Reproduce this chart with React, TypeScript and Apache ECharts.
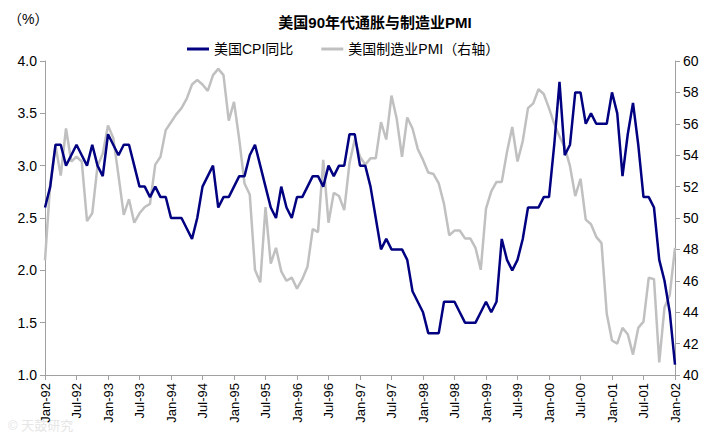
import React, { useEffect, useRef } from "react";
import * as echarts from "echarts";

const monthNames = ["Jan", "Feb", "Mar", "Apr", "May", "Jun", "Jul", "Aug", "Sep", "Oct", "Nov", "Dec"];
const years = [92, 93, 94, 95, 96, 97, 98, 99, 0, 1, 2];

const categories: string[] = [];
years.forEach((y) => {
  monthNames.forEach((m) => {
    if (categories.length < 121) categories.push(m + "-" + String(y).padStart(2, "0"));
  });
});

// 美国CPI同比 (%)
const cpi = [
  2.6, 2.8, 3.2, 3.2, 3.0, 3.1, 3.2, 3.1, 3.0, 3.2, 3.0, 2.9,
  3.3, 3.2, 3.1, 3.2, 3.2, 3.0, 2.8, 2.8, 2.7, 2.8, 2.7, 2.7,
  2.5, 2.5, 2.5, 2.4, 2.3, 2.5, 2.8, 2.9, 3.0, 2.6, 2.7, 2.7,
  2.8, 2.9, 2.9, 3.1, 3.2, 3.0, 2.8, 2.6, 2.5, 2.8, 2.6, 2.5,
  2.7, 2.7, 2.8, 2.9, 2.9, 2.8, 3.0, 2.9, 3.0, 3.0, 3.3, 3.3,
  3.0, 3.0, 2.8, 2.5, 2.2, 2.3, 2.2, 2.2, 2.2, 2.1, 1.8, 1.7,
  1.6, 1.4, 1.4, 1.4, 1.7, 1.7, 1.7, 1.6, 1.5, 1.5, 1.5, 1.6,
  1.7, 1.6, 1.7, 2.3, 2.1, 2.0, 2.1, 2.3, 2.6, 2.6, 2.6, 2.7,
  2.7, 3.2, 3.8, 3.1, 3.2, 3.7, 3.7, 3.4, 3.5, 3.4, 3.4, 3.4,
  3.7, 3.5, 2.9, 3.3, 3.6, 3.2, 2.7, 2.7, 2.6, 2.1, 1.9, 1.6,
  1.1,
];

// 美国制造业PMI
const pmi = [
  47.3, 52.2, 54.6, 52.7, 55.7, 53.6, 53.9, 53.6, 49.8, 50.3, 53.3, 54.1,
  55.9, 55.1, 52.7, 50.2, 51.2, 49.7, 50.3, 50.7, 50.9, 53.4, 53.9, 55.6,
  56.1, 56.6, 57.0, 57.6, 58.5, 58.8, 58.5, 58.1, 59.1, 59.5, 59.1, 56.2,
  57.4, 55.0, 52.2, 51.5, 46.7, 45.9, 50.7, 47.1, 48.1, 46.6, 46.0, 46.2,
  45.5, 46.1, 46.9, 49.3, 49.1, 53.7, 49.7, 51.6, 51.4, 50.5, 53.5, 55.0,
  53.9, 53.4, 53.8, 53.8, 56.1, 55.0, 57.8, 56.3, 53.9, 56.4, 55.7, 54.4,
  53.7, 52.9, 52.8, 52.2, 50.9, 48.9, 49.2, 49.2, 48.7, 48.7, 48.1, 46.7,
  50.6, 51.7, 52.3, 52.3, 54.2, 55.8, 53.6, 54.9, 57.0, 57.3, 58.2, 57.9,
  57.0, 56.0, 55.2, 54.5, 53.3, 51.4, 52.5, 49.9, 49.6, 48.8, 48.4, 43.9,
  42.2, 42.0, 43.0, 42.6, 41.3, 43.0, 43.4, 46.2, 46.1, 40.8, 44.3, 45.1,
  48.1,
];

const font = "Arial, 'Liberation Sans', 'Noto Sans CJK SC', sans-serif";

const App = () => {
  const chartRef = useRef<HTMLDivElement>(null);

  useEffect(() => {
    const chartDom = chartRef.current;
    if (!chartDom) return;
    const myChart = echarts.init(chartDom, null, { renderer: "svg" });
    const axisLine = { show: true, lineStyle: { color: "#a0a0a0" } };
    myChart.setOption({
      animation: false,
      textStyle: { fontFamily: font },
      title: {
        text: "美国90年代通胀与制造业PMI",
        left: 362,
        top: 2,
        textAlign: "center",
        textStyle: { fontSize: 15, fontWeight: "bold", color: "#000", fontFamily: font },
      },
      graphic: [
        { type: "text", left: 0, top: 4, style: { text: "（%）", fill: "#000", font: "14px " + font } },
        { type: "text", left: 0, bottom: 0, style: { text: "© 天鼓研究", fill: "#e6e6e6", font: "13px " + font } },
      ],
      legend: {
        top: 29,
        left: 174,
        itemWidth: 22,
        itemHeight: 3,
        itemGap: 28,
        icon: "rect",
        textStyle: { fontSize: 14, color: "#000" },
        data: ["美国CPI同比", "美国制造业PMI（右轴）"],
      },
      grid: { left: 37, right: 31, top: 53, bottom: 57 },
      xAxis: {
        type: "category",
        data: categories,
        boundaryGap: false,
        axisLine,
        axisTick: { show: true, interval: 5, inside: false, lineStyle: { color: "#a0a0a0" } },
        axisLabel: { interval: 5, rotate: 90, fontSize: 13, color: "#000" },
      },
      yAxis: [
        {
          type: "value",
          min: 1,
          max: 4,
          interval: 0.5,
          axisLine,
          axisTick: { show: true, lineStyle: { color: "#a0a0a0" } },
          splitLine: { show: false },
          axisLabel: { fontSize: 14, color: "#000", formatter: (v: number) => v.toFixed(1) },
        },
        {
          type: "value",
          min: 40,
          max: 60,
          interval: 2,
          axisLine,
          axisTick: { show: true, lineStyle: { color: "#a0a0a0" } },
          splitLine: { show: false },
          axisLabel: { fontSize: 14, color: "#000" },
        },
      ],
      series: [
        {
          name: "美国制造业PMI（右轴）",
          type: "line",
          yAxisIndex: 1,
          data: pmi,
          symbol: "none",
          lineStyle: { color: "#c0c0c0", width: 2.5 },
          itemStyle: { color: "#c0c0c0" },
        },
        {
          name: "美国CPI同比",
          type: "line",
          data: cpi,
          symbol: "none",
          lineStyle: { color: "#000080", width: 2.5 },
          itemStyle: { color: "#000080" },
          z: 3,
        },
      ],
    });
    return () => myChart.dispose();
  }, []);

  return <div ref={chartRef} style={{ width: 698, height: 424 }}></div>;
};

export default App;
